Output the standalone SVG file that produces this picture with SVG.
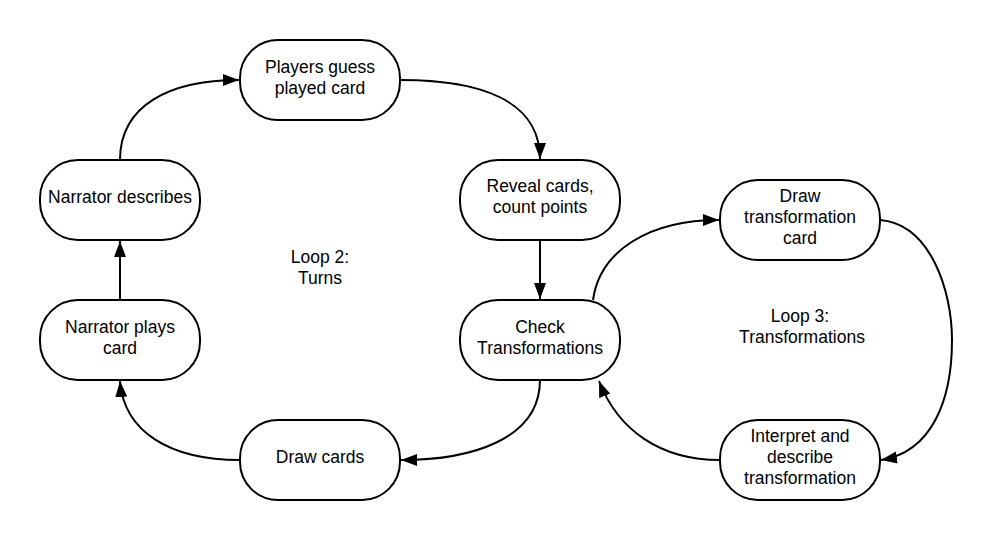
<svg xmlns="http://www.w3.org/2000/svg" width="993" height="540" viewBox="0 0 993 540">
<style>
.node rect{fill:#fff;stroke:#000;stroke-width:2}
text{font-family:"Liberation Sans",Arial,sans-serif;font-size:17.5px;fill:#000;text-anchor:middle}
.edge{fill:none;stroke:#000;stroke-width:2;marker-end:url(#arr)}
</style>
<defs>
<marker id="arr" markerUnits="userSpaceOnUse" markerWidth="18" markerHeight="14" refX="16" refY="6" orient="auto">
<path d="M0,0 L16,6 L0,12 z" fill="#000"/>
</marker>
</defs>
<rect width="993" height="540" fill="#fff"/>
<g id="connectors">
<path class="edge" d="M120,160 C120,105 170,80 239,80"/>
<path class="edge" d="M400,80 C480,80 540,100 540,159"/>
<path class="edge" d="M540,240 L540,299"/>
<path class="edge" d="M540,380 C540,440 470,460 401,460"/>
<path class="edge" d="M240,460 C170,460 124,432 120,381"/>
<path class="edge" d="M120,300 L120,241"/>
<path class="edge" d="M593,300 C600,250 650,220 719,220"/>
<path class="edge" d="M880,220 C930,224 952,290 952,340 C952,400 932,452 881,460"/>
<path class="edge" d="M720,460 C660,460 618,430 599,381"/>
</g>
<g id="n-players-guess" class="node"><rect x="240" y="40" width="160" height="80" rx="38" ry="38"/><text x="320" y="73">Players guess</text><text x="320" y="94">played card</text></g>
<g id="n-narrator-describes" class="node"><rect x="40" y="160" width="160" height="80" rx="38" ry="38"/><text x="120" y="203">Narrator describes</text></g>
<g id="n-reveal-cards" class="node"><rect x="460" y="160" width="160" height="80" rx="38" ry="38"/><text x="540" y="192">Reveal cards,</text><text x="540" y="213">count points</text></g>
<g id="n-draw-transformation" class="node"><rect x="720" y="180" width="160" height="80" rx="38" ry="38"/><text x="800" y="201.5">Draw</text><text x="800" y="223">transformation</text><text x="800" y="244">card</text></g>
<g id="n-narrator-plays" class="node"><rect x="40" y="300" width="160" height="80" rx="38" ry="38"/><text x="120" y="333">Narrator plays</text><text x="120" y="354">card</text></g>
<g id="n-check-transformations" class="node"><rect x="460" y="300" width="160" height="80" rx="38" ry="38"/><text x="540" y="333">Check</text><text x="540" y="354">Transformations</text></g>
<g id="n-draw-cards" class="node"><rect x="240" y="420" width="160" height="80" rx="38" ry="38"/><text x="320" y="463">Draw cards</text></g>
<g id="n-interpret" class="node"><rect x="720" y="420" width="160" height="80" rx="38" ry="38"/><text x="800" y="441.5">Interpret and</text><text x="800" y="463">describe</text><text x="800" y="484">transformation</text></g>
<g id="labels">
<text x="320" y="263">Loop 2:</text><text x="320" y="284">Turns</text>
<text x="800" y="322">Loop 3:</text><text x="802" y="343">Transformations</text>
</g>
</svg>
